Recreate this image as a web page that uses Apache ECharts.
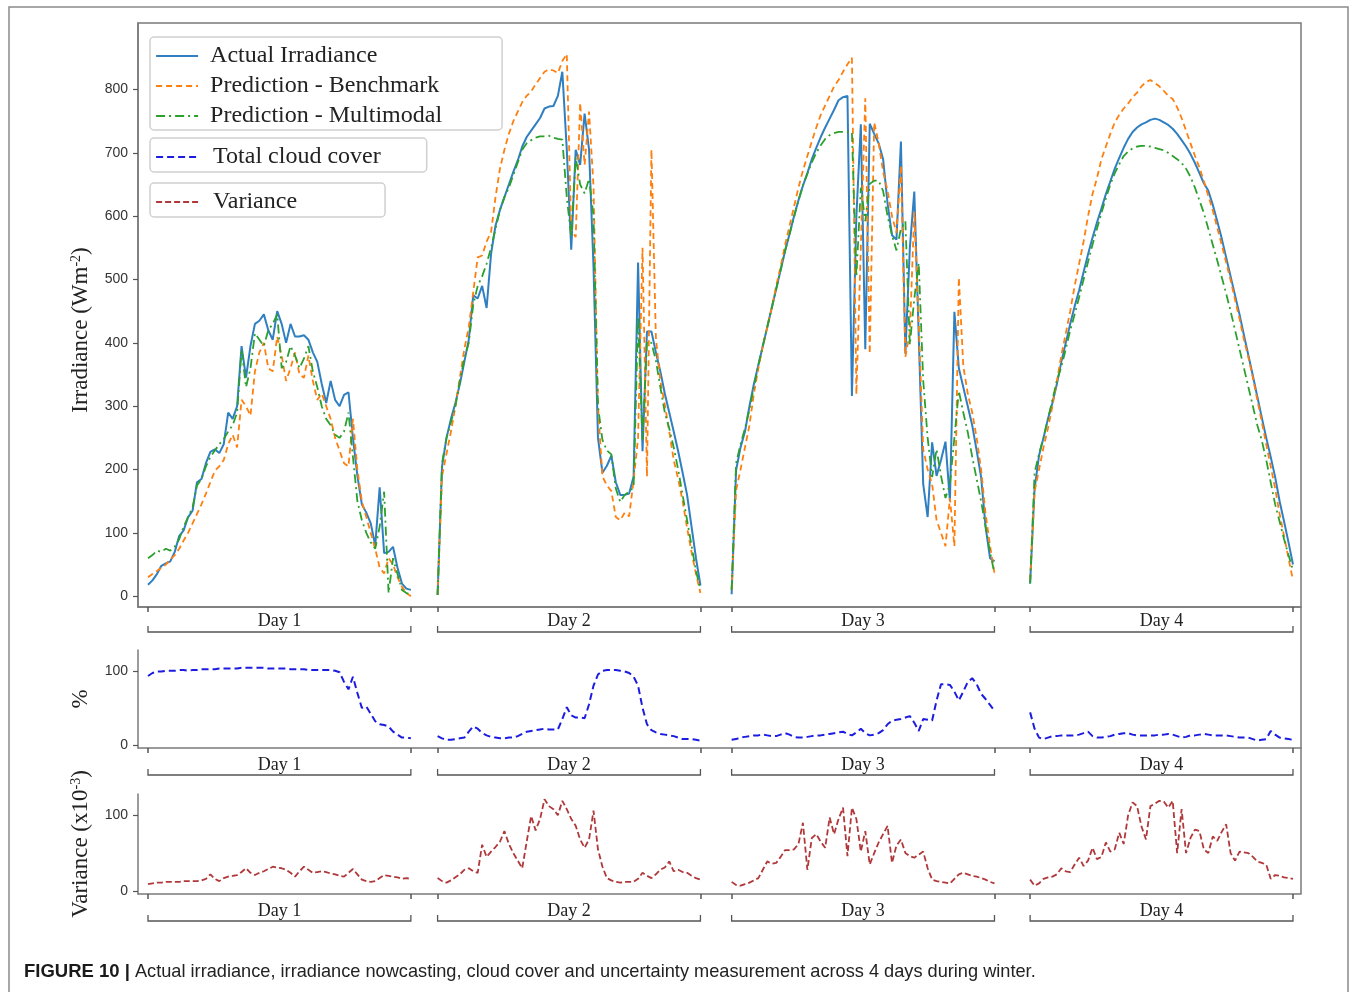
<!DOCTYPE html>
<html><head><meta charset="utf-8">
<script src="https://cdn.jsdelivr.net/npm/echarts@6/dist/echarts.min.js"></script>
<style>html,body{margin:0;padding:0;background:#fff;}#c{width:1356px;height:992px;}</style>
</head><body><div id="c"></div>
<script>
// ---- DATA ----
const DAYS = ['Day 1', 'Day 2', 'Day 3', 'Day 4'];
const DAY_START = [0, 65, 131, 198];   // sample index of first sample of each day
const DAY_LEN = 60;                    // samples per day

const actual = [
  [18,25,35,48,52,55,70,95,104,125,135,180,185,210,228,232,226,240,290,280,300,395,345,395,430,435,445,420,405,450,430,400,430,410,410,412,405,385,370,335,305,340,310,300,318,322,250,190,145,132,115,80,172,68,70,78,45,20,12,10],
  [2,205,250,280,305,335,370,405,475,470,490,455,540,585,610,630,650,670,688,710,725,735,745,755,770,773,774,790,828,705,547,705,681,762,705,520,250,195,206,222,180,160,160,162,189,527,229,418,418,385,355,320,290,260,229,195,160,110,60,17],
  [3,199,235,260,300,335,365,395,425,455,485,515,545,572,600,625,648,668,690,708,725,740,754,768,783,788,790,316,600,745,390,746,730,715,690,620,570,563,718,383,550,639,411,177,125,243,190,215,244,150,449,360,330,300,270,230,188,110,60,55],
  [20,170,222,250,280,305,335,370,400,430,458,483,512,540,566,590,612,635,655,675,692,708,722,733,740,745,748,752,754,752,748,744,738,730,720,710,698,684,668,652,640,618,592,565,535,505,475,445,412,380,348,315,282,250,220,188,150,118,85,50]
];
const benchmark = [
  [30,35,40,45,50,58,65,75,88,100,115,130,145,162,180,198,205,215,240,255,235,310,300,285,355,385,400,360,355,410,380,340,360,385,350,345,380,340,310,320,300,280,250,230,210,205,280,200,150,125,100,75,45,36,60,50,30,15,5,0],
  [2,190,225,260,300,345,390,425,480,535,538,560,575,630,675,705,730,750,765,780,790,797,808,818,828,832,830,826,845,856,578,567,779,681,765,647,300,189,175,166,125,120,132,126,183,250,550,189,705,407,340,303,260,215,185,150,108,70,35,5],
  [10,167,200,235,270,320,360,395,425,455,490,520,555,585,615,645,672,695,718,740,760,775,790,805,815,828,840,850,319,550,786,383,748,716,670,640,600,574,680,378,416,607,430,232,200,177,120,100,79,155,79,503,363,320,290,250,200,130,80,36],
  [25,165,200,235,265,300,340,380,415,450,490,525,560,600,635,660,690,710,730,748,760,770,778,788,795,805,812,815,810,805,798,790,785,772,755,735,715,695,677,655,632,609,582,555,527,499,468,438,405,377,345,310,275,240,205,170,130,95,60,25]
];
const multimodal = [
  [60,65,72,70,75,72,78,90,110,125,140,175,185,205,220,230,240,248,260,270,290,390,330,360,415,405,395,420,430,445,360,370,395,380,360,375,395,355,330,300,280,270,255,250,260,290,220,150,120,100,85,75,110,165,5,60,35,10,5,3],
  [2,210,250,275,300,340,375,400,460,490,505,525,550,580,610,630,645,665,685,705,715,720,724,726,726,727,724,722,721,630,567,693,650,636,659,600,300,247,230,224,170,149,160,165,172,441,247,402,400,372,330,290,265,235,200,160,120,80,40,10],
  [10,210,240,265,295,330,365,395,425,455,485,515,546,572,598,625,648,667,685,700,712,722,728,731,733,733,733,733,504,645,592,651,656,656,640,600,570,546,580,592,397,470,526,341,250,188,232,190,155,177,250,324,290,259,220,185,150,110,70,36],
  [20,195,225,250,280,310,340,362,390,420,445,472,500,528,555,580,605,628,650,668,682,695,702,707,710,711,711,710,708,706,704,700,695,690,684,675,662,645,625,605,580,555,530,504,478,450,420,390,360,330,300,270,246,215,180,145,118,90,65,41]
];
const cloudCover = [
  [93,97,99,99,100,100,100,101,101,100,101,101,102,102,102,102,103,103,103,103,103,104,104,104,104,104,104,103,103,103,103,103,102,102,102,102,101,101,101,101,101,101,100,98,85,75,92,70,50,52,42,32,28,27,25,18,14,10,10,9],
  [12,9,7,7,8,9,10,18,25,22,16,13,11,10,9,9,10,10,12,15,18,19,20,21,22,21,21,21,35,51,40,37,37,36,55,80,95,100,101,101,101,100,99,97,92,80,50,28,20,17,15,14,13,12,10,8,8,8,7,6],
  [7,8,10,11,12,13,13,14,13,12,12,14,16,14,11,10,10,11,12,13,13,14,15,16,17,18,15,13,17,22,16,13,14,16,20,28,33,34,35,37,39,30,19,35,34,33,60,82,82,81,72,60,72,85,90,82,69,62,54,46],
  [44,22,10,8,10,12,12,13,13,13,13,14,16,18,12,10,10,11,12,14,15,16,16,14,13,13,13,13,13,14,14,15,14,12,10,11,13,13,14,15,14,13,13,13,13,12,11,10,10,10,8,6,7,8,19,14,10,9,8,7]
];
const variance = [
  [9,10,11,11,12,12,12,12,13,13,13,13,14,16,22,16,13,17,19,20,21,25,30,24,21,24,26,29,32,31,30,28,24,19,26,32,28,24,25,26,25,23,22,20,19,24,29,22,15,13,12,13,17,21,20,19,18,16,17,16],
  [17,13,11,14,18,22,28,30,26,24,61,45,52,58,65,79,62,50,40,30,65,99,80,95,121,112,108,100,119,108,95,86,68,57,68,106,55,32,17,14,12,11,12,12,12,16,24,20,17,22,28,31,39,26,28,25,24,20,17,15],
  [12,8,7,9,11,14,17,28,39,36,37,45,54,54,55,62,90,28,70,75,65,57,97,75,95,110,46,110,95,52,79,35,50,64,75,86,37,60,68,50,46,44,48,52,30,15,13,12,11,10,16,22,24,22,20,19,17,15,12,10],
  [15,7,10,16,18,19,22,30,26,25,35,44,33,40,57,42,45,64,52,55,77,62,100,117,112,85,68,112,115,119,118,110,119,50,108,50,70,81,79,55,50,72,66,78,88,50,40,52,51,50,45,39,37,35,16,21,20,18,17,16]
];
const IRR_TICKS = [0, 100, 200, 300, 400, 500, 600, 700, 800];
const SMALL_TICKS = [0, 100];

// ---- BUILD ----
function build(days) {
  const out = [];
  days.forEach((arr, d) => {
    if (d) out.push([DAY_START[d] - 1, '-']);
    arr.forEach((v, i) => out.push([DAY_START[d] + i, v]));
  });
  return out;
}
const dayEnds = DAY_START.map(s => s + DAY_LEN - 1);
const dayTicks = [];
DAY_START.forEach((s, d) => { dayTicks.push(s, dayEnds[d]); });
const dayCenters = DAY_START.map((s, d) => (s + dayEnds[d]) / 2);

const SERIF = '"Liberation Serif", "DejaVu Serif", serif';
const SANS = '"Liberation Sans", Arial, sans-serif';
const SPINE = '#7a7a7a';

const grids = [
  { left: 138, top: 23, width: 1163, height: 584, show: true, borderColor: SPINE, borderWidth: 1.5 },
  { left: 138, top: 650, width: 1163, height: 98 },
  { left: 138, top: 794, width: 1163, height: 100 }
];
const labelMargins = [5, 8, 8];
const bracketOffsets = [25, 27, 27];

const xAxes = grids.map((g, k) => ({
  type: 'value', gridIndex: k, min: -2.245, max: 258.8,
  splitLine: { show: false },
  axisLine: { show: true, onZero: false, lineStyle: { color: SPINE, width: 1.5 } },
  axisTick: { show: true, customValues: dayTicks, length: 5, lineStyle: { color: '#555', width: 1.5 } },
  axisLabel: {
    show: true, customValues: dayCenters, margin: labelMargins[k],
    fontFamily: SERIF, fontSize: 18, color: '#222',
    formatter: v => {
      let best = 0;
      dayCenters.forEach((c, i) => { if (Math.abs(c - v) < Math.abs(dayCenters[best] - v)) best = i; });
      return DAYS[best];
    }
  }
}));

function yAxis(k, min, max, ticks, name, nameExtra) {
  return Object.assign({
    type: 'value', gridIndex: k, min: min, max: max,
    splitLine: { show: false },
    axisLine: { show: true, onZero: false, lineStyle: { color: SPINE, width: 1.5 } },
    axisTick: { show: true, customValues: ticks, length: 5, lineStyle: { color: '#555', width: 1.2 } },
    axisLabel: { customValues: ticks, fontFamily: SANS, fontSize: 14, color: '#333', margin: 10 },
    name: name, nameLocation: 'middle', nameGap: 46
  }, nameExtra);
}
const yAxes = [
  yAxis(0, -17, 905, IRR_TICKS, '{a|Irradiance (Wm}{s|-2}{a|)}', {
    nameTextStyle: { padding: [0, 30, 0, 0], rich: {
      a: { fontFamily: SERIF, fontSize: 23, color: '#222' },
      s: { fontFamily: SERIF, fontSize: 14, color: '#222', verticalAlign: 'top' } } }
  }),
  yAxis(1, -4, 128, SMALL_TICKS, '%', {
    nameTextStyle: { fontFamily: SERIF, fontSize: 23, color: '#222' }
  }),
  yAxis(2, -4, 128, SMALL_TICKS, '{a|Variance (x10}{s|-3}{a|)}', {
    nameTextStyle: { rich: {
      a: { fontFamily: SERIF, fontSize: 23, color: '#222' },
      s: { fontFamily: SERIF, fontSize: 14, color: '#222', verticalAlign: 'top' } } }
  })
];

function lineSeries(name, k, days, color, type, width) {
  return {
    name: name, type: 'line', xAxisIndex: k, yAxisIndex: k,
    data: build(days), showSymbol: false, symbol: 'circle', connectNulls: false,
    lineStyle: { color: color, width: width, type: type }, itemStyle: { color: color },
    emphasis: { disabled: true }, z: 3
  };
}
function bracketSeries(k) {
  return {
    type: 'custom', xAxisIndex: k, yAxisIndex: k, clip: false, silent: true,
    data: DAY_START.map((s, d) => [s, dayEnds[d]]),
    renderItem: function (params, api) {
      const cs = params.coordSys;
      const x1 = api.coord([api.value(0), 0])[0];
      const x2 = api.coord([api.value(1), 0])[0];
      const yb = cs.y + cs.height + bracketOffsets[k];
      return { type: 'polyline', shape: { points: [[x1, yb - 6], [x1, yb], [x2, yb], [x2, yb - 6]] },
               style: { stroke: '#555', lineWidth: 1.3, fill: null } };
    }
  };
}

const series = [
  lineSeries('Actual Irradiance', 0, actual, '#2f7fc1', 'solid', 2),
  lineSeries('Prediction - Benchmark', 0, benchmark, '#ff7f0e', [6, 4], 1.8),
  lineSeries('Prediction - Multimodal', 0, multimodal, '#2ca02c', [9, 4, 2, 4], 1.8),
  lineSeries('Total cloud cover', 1, cloudCover, '#1c1ce0', [7, 4], 2),
  lineSeries('Variance', 2, variance, '#b0383a', [6, 3], 1.8),
  bracketSeries(0), bracketSeries(1), bracketSeries(2)
];
series[0].z = 2;

const legendBase = {
  orient: 'vertical', left: 150, itemWidth: 42, itemHeight: 20, itemGap: 6,
  backgroundColor: '#fff', borderColor: '#d0d0d0', borderWidth: 1.5, borderRadius: 4,
  itemStyle: { opacity: 0 }, selectedMode: false,
  lineStyle: { width: 2.2 },
  textStyle: { fontFamily: SERIF, fontSize: 24, color: '#222', padding: [0, 0, 0, 7] }
};
const legends = [
  Object.assign({}, legendBase, { top: 37, padding: [7, 60, 2, 5],
    data: ['Actual Irradiance', 'Prediction - Benchmark', 'Prediction - Multimodal'] }),
  Object.assign({}, legendBase, { top: 138, padding: [7, 46, 3, 5],
    textStyle: Object.assign({}, legendBase.textStyle, { padding: [0, 0, 0, 10] }),
    data: ['Total cloud cover'] }),
  Object.assign({}, legendBase, { top: 183, padding: [7, 88, 3, 5],
    textStyle: Object.assign({}, legendBase.textStyle, { padding: [0, 0, 0, 10] }),
    data: ['Variance'] })
];

const chart = echarts.init(document.getElementById('c'), null, { renderer: 'canvas' });
chart.setOption({
  animation: false,
  backgroundColor: '#fff',
  grid: grids, xAxis: xAxes, yAxis: yAxes, legend: legends, series: series,
  graphic: [
    { type: 'polyline', silent: true, shape: { points: [[9, 992], [9, 7], [1348, 7], [1348, 992]] },
      style: { stroke: '#8a8a8a', lineWidth: 1.5, fill: null } },
    { type: 'line', silent: true, shape: { x1: 1301, y1: 607, x2: 1301, y2: 894 },
      style: { stroke: SPINE, lineWidth: 1.5 } },
    { type: 'text', silent: true, left: 24, top: 962,
      style: { text: '{b|FIGURE 10 |} Actual irradiance, irradiance nowcasting, cloud cover and uncertainty measurement across 4 days during winter.',
        rich: { b: { fontFamily: SANS, fontWeight: 'bold', fontSize: 18.5, fill: '#1a1a1a' } },
        fontFamily: SANS, fontSize: 18.2, fill: '#222' } }
  ]
});
</script></body></html>
